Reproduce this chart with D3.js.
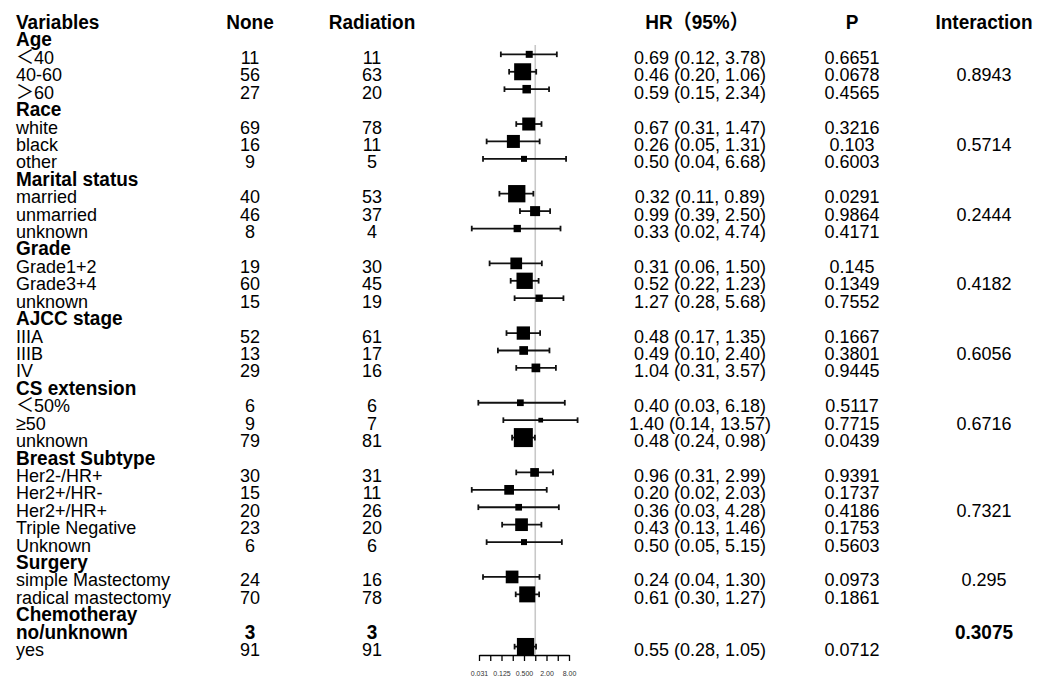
<!DOCTYPE html>
<html>
<head>
<meta charset="utf-8">
<script src="https://cdn.jsdelivr.net/npm/d3@7"></script>
<style>
  html, body { margin: 0; padding: 0; background: #fff; }
  svg { display: block; }
</style>
</head>
<body>
<div id="chart"></div>
<script>
const groupNames = ["Age", "Race", "Marital status", "Grade", "AJCC stage", "CS extension", "Breast Subtype", "Surgery", "Chemotheray"]
const groupSizes = [3, 3, 3, 3, 3, 3, 5, 2, 2]
const interaction = ["0.8943", "0.5714", "0.2444", "0.4182", "0.6056", "0.6716", "0.7321", "0.295", "0.3075"]
const interactionAt = [1, 1, 1, 1, 1, 1, 2, 0, 0]

const subLabels = [
  "＜40", "40-60", "＞60",
  "white", "black", "other",
  "married", "unmarried", "unknown",
  "Grade1+2", "Grade3+4", "unknown",
  "IIIA", "IIIB", "IV",
  "＜50%", "≥50", "unknown",
  "Her2-/HR+", "Her2+/HR-", "Her2+/HR+", "Triple Negative", "Unknown",
  "simple Mastectomy", "radical mastectomy",
  "no/unknown", "yes"
]
const noneN = [11, 56, 27, 69, 16, 9, 40, 46, 8, 19, 60, 15, 52, 13, 29, 6, 9, 79, 30, 15, 20, 23, 6, 24, 70, 3, 91]
const radiationN = [11, 63, 20, 78, 11, 5, 53, 37, 4, 30, 45, 19, 61, 17, 16, 6, 7, 81, 31, 11, 26, 20, 6, 16, 78, 3, 91]
const hr = [0.69, 0.46, 0.59, 0.67, 0.26, 0.50, 0.32, 0.99, 0.33, 0.31, 0.52, 1.27, 0.48, 0.49, 1.04, 0.40, 1.40, 0.48, 0.96, 0.20, 0.36, 0.43, 0.50, 0.24, 0.61, null, 0.55]
const hrLow = [0.12, 0.20, 0.15, 0.31, 0.05, 0.04, 0.11, 0.39, 0.02, 0.06, 0.22, 0.28, 0.17, 0.10, 0.31, 0.03, 0.14, 0.24, 0.31, 0.02, 0.03, 0.13, 0.05, 0.04, 0.30, null, 0.28]
const hrHigh = [3.78, 1.06, 2.34, 1.47, 1.31, 6.68, 0.89, 2.50, 4.74, 1.50, 1.23, 5.68, 1.35, 2.40, 3.57, 6.18, 13.57, 0.98, 2.99, 2.03, 4.28, 1.46, 5.15, 1.30, 1.27, null, 1.05]
const pValues = ["0.6651", "0.0678", "0.4565", "0.3216", "0.103", "0.6003", "0.0291", "0.9864", "0.4171", "0.145", "0.1349", "0.7552", "0.1667", "0.3801", "0.9445", "0.5117", "0.7715", "0.0439", "0.9391", "0.1737", "0.4186", "0.1753", "0.5603", "0.0973", "0.1861", "", "0.0712"]
// relative box weights
const boxWeight = [7, 17, 8.5, 13, 13, 6, 17.3, 10, 7.3, 11.7, 16.3, 7.3, 13.3, 8.7, 8.7, 6.7, 4.7, 19, 8.7, 9.7, 6.7, 12.7, 6, 12.7, 16, 0, 17.3]

const axisTicks = [0.03125, 0.0625, 0.125, 0.25, 0.5, 1, 2, 4, 8]
const axisLabels = { 0.03125: "0.031", 0.125: "0.125", 0.5: "0.500", 2: "2.00", 8: "8.00" }

// build row list: group row followed by its sub rows
const rows = []
let k = 0
groupNames.forEach((g, gi) => {
  rows.push({ kind: "group", label: g })
  for (let j = 0; j < groupSizes[gi]; j++) {
    rows.push({
      kind: "sub", label: subLabels[k], none: noneN[k], rad: radiationN[k],
      hr: hr[k], lo: hrLow[k], hi: hrHigh[k], p: pValues[k], w: boxWeight[k],
      inter: j === interactionAt[gi] ? interaction[gi] : null,
      bold: hr[k] == null
    })
    k++
  }
})

const W = 1049, H = 679
const font = "'Liberation Sans', Arial, 'Noto Sans CJK SC', sans-serif"

const svg = d3.select("#chart").append("svg")
  .attr("width", W).attr("height", H)
  .style("font-family", font)

const y = d3.scaleLinear().domain([0, rows.length]).range([19.5, 19.5 + rows.length * 17.42])
const x = d3.scaleLog().base(2).domain([0.03125, 8]).range([479, 569])
const box = d3.scaleLinear().domain([0, 20]).range([0, 20])

const colX = { label: 16, none: 250, rad: 372, hr: 700, p: 852, inter: 984 }
const base = 9.5

// text slightly stretched vertically like the source rendering
function txt(xp, yp, s, opts = {}) {
  svg.append("text")
    .attr("transform", `translate(${xp},${yp + base}) scale(1,1.07)`)
    .attr("text-anchor", opts.anchor || "middle")
    .attr("font-size", opts.bold ? 19 : 18)
    .attr("font-weight", opts.bold ? "bold" : "normal")
    .attr("fill", "#000")
    .text(s)
}

// header
txt(colX.label, y(0), "Variables", { anchor: "start", bold: true })
txt(colX.none, y(0), "None", { bold: true })
txt(colX.rad, y(0), "Radiation", { bold: true })
txt(697, y(0), "HR（95%）", { bold: true })
txt(colX.p, y(0), "P", { bold: true })
txt(colX.inter, y(0), "Interaction", { bold: true })

// reference line at HR = 1
svg.append("line")
  .attr("x1", x(1)).attr("x2", x(1))
  .attr("y1", 45).attr("y2", 654)
  .attr("stroke", "#c8c8c8").attr("stroke-width", 1.6)

rows.forEach((r, i) => {
  const yi = y(i + 1)
  if (r.kind === "group") {
    txt(colX.label, yi, r.label, { anchor: "start", bold: true })
    return
  }
  txt(colX.label, yi, r.label, { anchor: "start", bold: r.bold })
  txt(colX.none, yi, r.none, { bold: r.bold })
  txt(colX.rad, yi, r.rad, { bold: r.bold })
  if (r.inter) txt(colX.inter, yi, r.inter, { bold: r.bold })
  if (r.hr == null) return
  txt(colX.hr, yi, `${r.hr.toFixed(2)} (${r.lo.toFixed(2)}, ${r.hi.toFixed(2)})`)
  txt(colX.p, yi, r.p)

  const g = svg.append("g").attr("stroke", "#111").attr("stroke-width", 1.8)
  g.append("line").attr("x1", x(r.lo)).attr("x2", x(r.hi)).attr("y1", yi).attr("y2", yi)
  g.append("line").attr("x1", x(r.lo)).attr("x2", x(r.lo)).attr("y1", yi - 2.8).attr("y2", yi + 2.8)
  g.append("line").attr("x1", x(r.hi)).attr("x2", x(r.hi)).attr("y1", yi - 2.8).attr("y2", yi + 2.8)
  const s = box(r.w)
  svg.append("rect")
    .attr("x", x(r.hr) - s / 2).attr("y", yi - s / 2)
    .attr("width", s).attr("height", s)
    .attr("fill", "#000")
})

// axis
const axis = d3.axisBottom(x)
  .tickValues(axisTicks)
  .tickSize(6)
  .tickSizeOuter(0)
  .tickFormat(d => axisLabels[d] || "")
const ag = svg.append("g").attr("transform", "translate(0,655)").call(axis)
ag.select(".domain").attr("stroke", "#000").attr("stroke-width", 1.5)
ag.selectAll(".tick line").attr("stroke", "#000").attr("stroke-width", 1.3)
ag.selectAll(".tick text")
  .attr("font-size", 7).attr("font-family", font).attr("fill", "#333")
  .attr("y", 21).attr("dy", 0)
</script>
</body>
</html>
